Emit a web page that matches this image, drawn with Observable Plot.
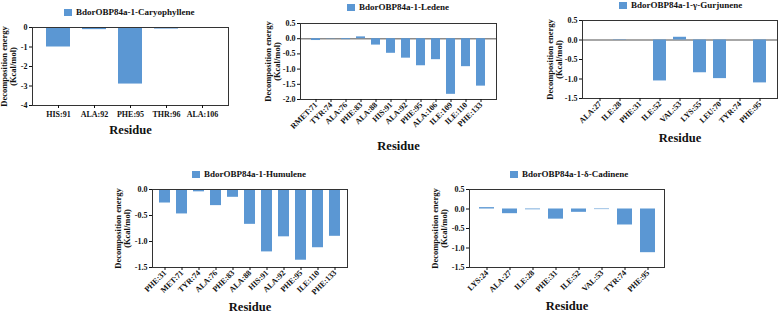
<!DOCTYPE html>
<html>
<head>
<meta charset="utf-8">
<script src="https://cdn.jsdelivr.net/npm/d3@7"></script>
<script src="https://cdn.jsdelivr.net/npm/@observablehq/plot@0.6"></script>
<style>
  html, body { margin: 0; padding: 0; background: #fff; }
  #root { position: relative; width: 779px; height: 314px; overflow: hidden; font-family: 'Liberation Serif','Times New Roman',serif; font-weight: bold; }
  .panel { position: absolute; }
  .legend { position: absolute; height: 12px; display: flex; align-items: center; font-size: 9px; white-space: nowrap; color: #111; }
  .legend .sw { display: inline-block; width: 8px; height: 7px; margin-right: 4px; }
</style>
</head>
<body>
<div id="root"></div>
<script>
// ---------- data ----------
const caryResidues = ["HIS:91", "ALA:92", "PHE:95", "THR:96", "ALA:106"];
const caryValues   = [-1.0, -0.11, -2.9, -0.08, -0.01];

const ledeneResidues = ["RMET:71", "TYR:74", "ALA:76", "PHE:83", "ALA:88", "HIS:91", "ALA:92", "PHE:95", "ALA:106", "ILE:109", "ILE:110", "PHE:133"];
const ledeneValues   = [-0.06, -0.01, -0.03, 0.06, -0.21, -0.48, -0.64, -0.89, -0.69, -1.83, -0.92, -1.56];

const gurjResidues = ["ALA:27", "ILE:28", "PHE:31", "ILE:52", "VAL:53", "LYS:55", "LEU:70", "TYR:74", "PHE:95"];
const gurjValues   = [0, -0.01, 0, -1.05, 0.07, -0.84, -0.99, 0, -1.1];

const humuResidues = ["PHE:31", "MET:71", "TYR:74", "ALA:76", "PHE:83", "ALA:88", "HIS:91", "ALA:92", "PHE:95", "ILE:110", "PHE:133"];
const humuValues   = [-0.26, -0.47, -0.045, -0.31, -0.15, -0.67, -1.2, -0.91, -1.36, -1.12, -0.9];

const cadResidues = ["LYS:24", "ALA:27", "ILE:28", "PHE:31", "ILE:52", "VAL:53", "TYR:74", "PHE:95"];
const cadValues   = [0.035, -0.12, -0.02, -0.26, -0.085, -0.015, -0.41, -1.12];

const legendNames = ["BdorOBP84a-1-Caryophyllene", "BdorOBP84a-1-Ledene", "BdorOBP84a-1-γ-Gurjunene", "BdorOBP84a-1-Humulene", "BdorOBP84a-1-δ-Cadinene"];
const yTicks1 = [0, -1, -2, -3, -4];
const yTicksA = [0.5, 0, -0.5, -1.0, -1.5, -2.0];
const yTicksB = [0.5, 0, -0.5, -1.0, -1.5];
const yTicksC = [0, -0.5, -1.0, -1.5];
const yLabel = "Decomposition energy\n(Kcal/mol)";
const xLabel = "Residue";

// ---------- drawing ----------
const FONT = "'Liberation Serif','Times New Roman',serif";
const BAR = "#5b97d3";
const root = document.getElementById("root");

function panel(o) {
  const data = o.residues.map((r, i) => ({res: r, val: o.values[i]}));
  const marks = [];
  if (o.zero) marks.push(Plot.ruleY([0], {stroke: "#8a8a8a", strokeWidth: 1.6}));
  marks.push(Plot.barY(data, {x: "res", y1: 0, y2: "val", fill: BAR}));
  marks.push(Plot.frame({stroke: "#333", strokeWidth: 1}));
  marks.push(Plot.axisY({ticks: o.ticks, tickFormat: o.fmt, tickSize: 3, tickPadding: 2, label: null, fontSize: 8}));
  if (o.rotate) {
    marks.push(Plot.axisX({tickRotate: -45, tickSize: 3, tickPadding: 1, label: null, fontSize: 8}));
  } else {
    marks.push(Plot.axisX({tickSize: 3, tickPadding: 3, label: null, fontSize: 8}));
  }
  marks.push(Plot.text([yLabel], {frameAnchor: "left", textAnchor: "middle", lineAnchor: "middle", rotate: -90, dx: o.ylabDx, fontSize: 8.5, lineHeight: 1.1, fill: "#111"}));
  marks.push(Plot.text([xLabel], {frameAnchor: "bottom", textAnchor: "middle", lineAnchor: "middle", dy: o.resDy, fontSize: 12.5, fill: "#111"}));
  const chart = Plot.plot({
    width: o.w, height: o.h,
    marginLeft: o.ml, marginRight: o.mr, marginTop: o.mt, marginBottom: o.mb,
    style: {fontFamily: FONT, fontWeight: "bold", background: "transparent", color: "#111", overflow: "visible"},
    x: {domain: o.residues, paddingInner: o.pi, paddingOuter: o.po, label: null},
    y: {domain: o.domain, label: null},
    marks
  });
  chart.classList.add("panel");
  chart.style.left = o.left + "px";
  chart.style.top = o.top + "px";
  root.appendChild(chart);

  const lg = document.createElement("div");
  lg.className = "legend";
  lg.style.left = o.lx + "px";
  lg.style.top = (o.ly - 6) + "px";
  lg.innerHTML = `<span class="sw" style="background:${BAR}"></span><span>${o.name}</span>`;
  root.appendChild(lg);
}

const fmt1 = d => String(d);
const fmtA = d => d.toFixed(1);

panel({residues: caryResidues, values: caryValues, domain: [-4, 0], ticks: yTicks1, fmt: fmt1,
  left: 0, top: 0, w: 250, h: 150, ml: 32, mr: 22, mt: 27, mb: 45, pi: 0.32, po: 0.31,
  rotate: false, zero: false, ylabDx: -24, resDy: 24, name: legendNames[0], lx: 64, ly: 12});

panel({residues: ledeneResidues, values: ledeneValues, domain: [-2, 0.5], ticks: yTicksA, fmt: fmtA,
  left: 255, top: 0, w: 260, h: 155, ml: 45, mr: 19, mt: 23, mb: 56, pi: 0.37, po: 0.44,
  rotate: true, zero: true, ylabDx: -28, resDy: 46, name: legendNames[1], lx: 347, ly: 7});

panel({residues: gurjResidues, values: gurjValues, domain: [-1.5, 0.5], ticks: yTicksB, fmt: fmtA,
  left: 520, top: 0, w: 259, h: 155, ml: 62, mr: 2, mt: 20, mb: 57, pi: 0.34, po: 0.37,
  rotate: true, zero: true, ylabDx: -28, resDy: 39, name: legendNames[2], lx: 619, ly: 5});

panel({residues: humuResidues, values: humuValues, domain: [-1.5, 0], ticks: yTicksC, fmt: fmtA,
  left: 100, top: 160, w: 260, h: 154, ml: 52, mr: 13, mt: 29, mb: 47, pi: 0.36, po: 0.35,
  rotate: true, zero: false, ylabDx: -30, resDy: 39, name: legendNames[3], lx: 192, ly: 174});

panel({residues: cadResidues, values: cadValues, domain: [-1.5, 0.5], ticks: yTicksB, fmt: fmtA,
  left: 400, top: 160, w: 279, h: 154, ml: 69, mr: 15, mt: 29, mb: 47, pi: 0.35, po: 0.3,
  rotate: true, zero: false, ylabDx: -30, resDy: 38, name: legendNames[4], lx: 510, ly: 174});
</script>
</body>
</html>
